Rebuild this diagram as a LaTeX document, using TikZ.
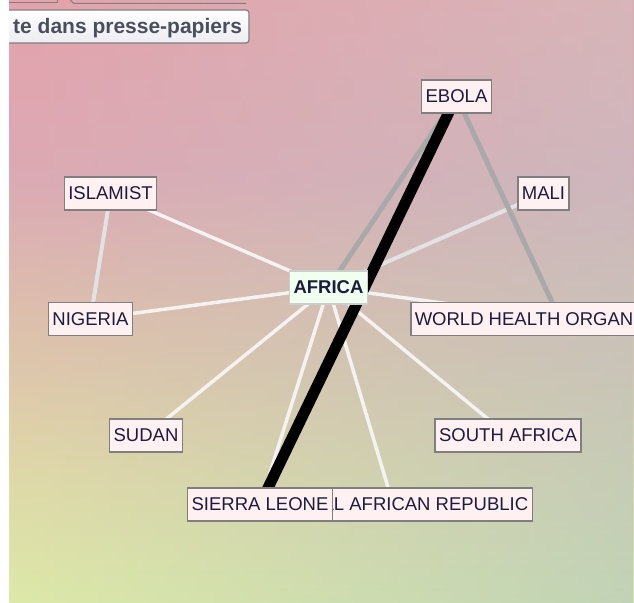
\documentclass[tikz,border=0pt]{standalone}
\usepackage{fontspec}
\setmainfont{Liberation Sans}
\usetikzlibrary{fadings}
\tikzfading[name=fadeleft, left color=transparent!100, right color=transparent!0]
\definecolor{bgA}{RGB}{228,162,172}
\definecolor{bgB}{RGB}{220,170,180}
\definecolor{bgC}{RGB}{222,193,172}
\definecolor{bgD}{RGB}{223,216,168}
\definecolor{bgE}{RGB}{221,233,168}
\definecolor{tintT}{RGB}{200,205,200}
\definecolor{tintB}{RGB}{160,185,200}
\definecolor{boxline}{RGB}{127,127,127}
\definecolor{boxfill}{RGB}{255,240,241}
\definecolor{hubline}{RGB}{205,205,205}
\definecolor{hubfill}{RGB}{241,255,241}
\definecolor{txt}{RGB}{28,28,60}
\definecolor{tiptxt}{RGB}{74,79,92}
\definecolor{tipfill}{RGB}{236,236,242}
\definecolor{edgegray}{RGB}{169,169,169}
\definecolor{edgelight}{RGB}{226,226,226}
\definecolor{edgewhite}{RGB}{245,242,242}
\pgfdeclarelayer{bg}
\pgfdeclarelayer{ed}
\pgfsetlayers{bg,ed,main}
\tikzset{
    KW/.style ={rectangle, draw=boxline, line width=1.5pt, fill=boxfill, text=txt, inner xsep=4pt, inner ysep=0pt, minimum height=33pt, font=\fontsize{18.5}{20}\selectfont},
    HUB/.style ={KW, draw=hubline, fill=hubfill, font=\bfseries\fontsize{18.5}{20}\selectfont},
    BL/.style ={line width=11pt, black},
    GR/.style ={line width=5pt, edgegray},
    LG/.style ={line width=4pt, edgelight},
    WH/.style ={line width=3.5pt, edgewhite}}

\begin{document}
\begin{tikzpicture}[x=1pt,y=-1pt]
    \clip (0,0) rectangle (634,602);
    \begin{pgfonlayer}{bg}
        \fill[white] (0,0) rectangle (634,602);
        \shade[top color=bgA, bottom color=bgB] (9,0) rectangle (634,180.5);
        \shade[top color=bgB, bottom color=bgC] (9,180) rectangle (634,330.5);
        \shade[top color=bgC, bottom color=bgD] (9,330) rectangle (634,470.5);
        \shade[top color=bgD, bottom color=bgE] (9,470) rectangle (634,602);
        \shade[top color=tintT, bottom color=tintB, path fading=fadeleft, opacity=.45] (9,0) rectangle (634,602);
    \end{pgfonlayer}

    \draw[boxline, line width=1pt] (9,3)--(57,3)--(57,0);
    \draw[boxline, line width=1pt] (70,0)--(74,3.5)--(246,3.5);
    \shade[top color=white, bottom color=tipfill, draw=boxline, line width=1.2pt, rounded corners=3pt] (4,10) rectangle (249,43);
    \node[anchor=base west, inner sep=0pt, text=tiptxt, font=\bfseries\fontsize{21}{22}\selectfont] (tip) at (13,34) {te dans presse-papiers};

    \node[KW] (ebola) at (456.5,96.5) {EBOLA};
    \node[KW] (islamist) at (110.5,193.5) {ISLAMIST};
    \node[KW] (mali) at (543.5,193.5) {MALI};
    \node[HUB] (africa) at (328.5,287.5) {AFRICA};
    \node[KW] (nigeria) at (90.5,319) {NIGERIA};
    \node[KW, anchor=west] (who) at (410,319) {WORLD HEALTH ORGANIZATION};
    \node[KW] (sudan) at (146,435.5) {SUDAN};
    \node[KW] (southafrica) at (508,435.5) {SOUTH AFRICA};
    \node[KW, anchor=east] (car) at (533,504.5) {CENTRAL AFRICAN REPUBLIC};
    \node[KW] (sierra) at (260,504.5) {SIERRA LEONE};

    \begin{pgfonlayer}{ed}
        \foreach \n in {islamist,nigeria,sudan,sierra,car,southafrica,who}{
            \draw[WH] (africa.center) -- (\n.center);}
        \draw[LG] (islamist.center) -- (nigeria.center);
        \draw[LG] (africa.center) -- (mali.center);
        \draw[GR] (africa.center) -- (ebola.center);
        \draw[GR] (ebola.center) -- (who.center);
        \draw[BL] (ebola.center) -- (sierra.center);
    \end{pgfonlayer}

    \fill[white] (0,0) rectangle (9,602);
\end{tikzpicture}
\end{document}
